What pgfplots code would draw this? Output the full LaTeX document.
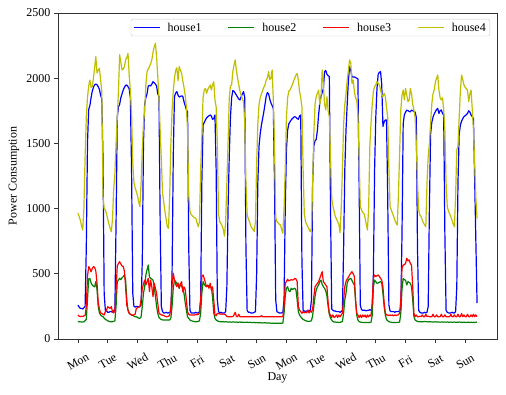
\documentclass[border=0pt]{standalone}
\usepackage{fontspec}
\setmainfont{Liberation Serif}
\usepackage{pgfplots}
\usepackage{pgfplotstable}
\pgfplotsset{compat=1.18}
\definecolor{mplb}{rgb}{0,0,1}
\definecolor{mplg}{rgb}{0,0.5,0}
\definecolor{mplr}{rgb}{1,0,0}
\definecolor{mply}{rgb}{0.75,0.75,0}

% house1, hourly values, one line per day
\pgfplotstableread[row sep=\\,header=false]{
260\\245\\235\\235\\230\\240\\250\\700\\1500\\1760\\1790\\1850\\1900\\1930\\1950\\1955\\1950\\1935\\1915\\1870\\1840\\1400\\350\\220\\
215\\205\\205\\210\\210\\205\\215\\230\\900\\1700\\1780\\1800\\1850\\1880\\1910\\1930\\1945\\1948\\1935\\1920\\1850\\1300\\350\\250\\
245\\250\\250\\245\\250\\260\\600\\1500\\1800\\1850\\1880\\1940\\1945\\1940\\1955\\1973\\1965\\1955\\1940\\1880\\1860\\900\\250\\210\\
200\\200\\205\\200\\200\\205\\210\\500\\1400\\1860\\1885\\1897\\1870\\1855\\1860\\1865\\1860\\1820\\1790\\1760\\1740\\700\\220\\200\\
200\\200\\200\\205\\200\\200\\210\\300\\1200\\1640\\1660\\1680\\1695\\1705\\1712\\1718\\1710\\1685\\1690\\1718\\1300\\300\\210\\200\\
205\\200\\200\\200\\210\\400\\1000\\1400\\1700\\1850\\1905\\1900\\1885\\1870\\1855\\1840\\1833\\1858\\1880\\1897\\1850\\700\\220\\205\\
205\\200\\200\\200\\205\\210\\500\\1200\\1480\\1575\\1640\\1690\\1740\\1800\\1860\\1890\\1880\\1840\\1810\\1790\\1770\\1200\\300\\210\\
205\\200\\200\\200\\205\\300\\1000\\1450\\1600\\1650\\1665\\1680\\1690\\1700\\1705\\1700\\1690\\1685\\1710\\1718\\600\\220\\215\\210\\
215\\215\\220\\215\\300\\1200\\1480\\1520\\1530\\1600\\1720\\1810\\1860\\1890\\1920\\2050\\2060\\2030\\2020\\2012\\1000\\230\\220\\215\\
215\\210\\210\\210\\205\\210\\220\\700\\1300\\1600\\1800\\1980\\2089\\2060\\2012\\2008\\2010\\2005\\2000\\1995\\1200\\260\\225\\220\\
220\\220\\215\\220\\220\\225\\220\\230\\500\\1300\\1700\\1920\\2030\\2045\\2050\\1950\\1630\\1665\\1680\\1680\\1100\\260\\215\\210\\
210\\210\\205\\210\\210\\210\\215\\230\\800\\1650\\1720\\1740\\1755\\1752\\1745\\1742\\1755\\1752\\1745\\1740\\1700\\700\\220\\205\\
200\\200\\200\\205\\200\\205\\250\\1000\\1570\\1660\\1700\\1725\\1743\\1760\\1768\\1730\\1750\\1756\\1730\\1720\\800\\220\\205\\200\\
200\\200\\205\\200\\200\\210\\400\\1200\\1570\\1640\\1670\\1690\\1705\\1712\\1720\\1730\\1750\\1740\\1718\\1705\\1690\\1220\\750\\276\\
}\houseA

% house2
\pgfplotstableread[row sep=\\,header=false]{
133\\133\\132\\130\\130\\132\\140\\150\\300\\460\\465\\430\\414\\405\\400\\440\\380\\250\\200\\184\\175\\171\\160\\150\\
146\\140\\135\\133\\133\\133\\135\\140\\250\\440\\452\\465\\455\\470\\478\\491\\450\\300\\222\\197\\190\\184\\180\\175\\
171\\171\\165\\160\\159\\170\\250\\350\\401\\491\\530\\567\\478\\465\\460\\452\\400\\330\\250\\197\\165\\155\\150\\146\\
146\\145\\145\\146\\145\\146\\160\\250\\389\\452\\440\\427\\410\\389\\420\\410\\380\\350\\280\\222\\170\\159\\146\\140\\
138\\135\\133\\133\\133\\135\\140\\200\\350\\440\\420\\405\\401\\414\\405\\401\\395\\320\\200\\159\\145\\140\\135\\133\\
133\\132\\133\\131\\132\\131\\130\\131\\130\\129\\131\\130\\129\\130\\128\\129\\130\\128\\129\\128\\127\\128\\129\\127\\
128\\127\\126\\127\\126\\125\\126\\125\\124\\125\\124\\123\\124\\125\\123\\122\\123\\122\\121\\122\\121\\120\\121\\120\\
121\\120\\120\\121\\122\\200\\330\\389\\401\\370\\363\\389\\380\\385\\390\\375\\300\\210\\184\\170\\159\\150\\146\\140\\
138\\135\\135\\136\\140\\180\\250\\325\\376\\400\\414\\440\\452\\420\\400\\389\\370\\330\\250\\190\\159\\146\\135\\130\\
130\\128\\128\\127\\128\\130\\135\\200\\300\\350\\427\\452\\460\\465\\450\\430\\414\\300\\184\\146\\133\\130\\128\\127\\
127\\126\\126\\127\\126\\127\\128\\180\\400\\452\\440\\427\\430\\435\\440\\430\\350\\250\\184\\150\\140\\133\\130\\128\\
127\\127\\126\\127\\127\\128\\130\\200\\380\\465\\455\\450\\414\\440\\435\\427\\400\\300\\171\\146\\140\\135\\133\\133\\
133\\132\\133\\134\\133\\132\\131\\133\\132\\131\\130\\131\\132\\130\\131\\130\\129\\130\\131\\129\\130\\129\\130\\129\\
129\\130\\128\\129\\130\\128\\129\\128\\130\\129\\128\\127\\129\\128\\127\\128\\129\\127\\128\\127\\128\\127\\128\\130\\
}\houseB

% house3
\pgfplotstableread[row sep=\\,header=false]{
184\\175\\171\\175\\171\\178\\180\\250\\480\\555\\540\\516\\540\\555\\550\\520\\430\\280\\230\\200\\195\\190\\184\\210\\
222\\248\\240\\235\\248\\210\\200\\215\\376\\560\\580\\593\\575\\560\\555\\520\\400\\260\\222\\197\\190\\184\\184\\185\\
190\\235\\240\\245\\248\\299\\389\\420\\452\\414\\440\\465\\363\\452\\400\\325\\427\\390\\350\\274\\200\\190\\184\\184\\
180\\175\\171\\171\\175\\180\\250\\420\\504\\452\\420\\401\\430\\389\\420\\440\\363\\400\\380\\299\\207\\190\\184\\184\\
184\\185\\184\\190\\185\\190\\200\\300\\480\\491\\465\\430\\401\\410\\389\\427\\376\\400\\300\\184\\178\\197\\195\\192\\
192\\190\\192\\190\\185\\172\\171\\171\\171\\171\\172\\185\\205\\172\\171\\190\\171\\171\\171\\171\\171\\171\\171\\171\\
171\\171\\171\\171\\171\\171\\171\\171\\171\\171\\180\\171\\171\\171\\171\\171\\171\\171\\171\\171\\171\\171\\171\\171\\
171\\171\\171\\171\\172\\250\\427\\440\\458\\445\\450\\455\\452\\455\\465\\460\\440\\250\\222\\210\\197\\210\\200\\207\\
200\\222\\200\\215\\205\\230\\325\\401\\414\\427\\440\\465\\491\\516\\440\\427\\414\\400\\280\\197\\184\\165\\184\\165\\
171\\184\\165\\184\\170\\184\\200\\300\\401\\440\\460\\473\\491\\504\\516\\500\\480\\300\\197\\184\\165\\184\\165\\184\\
170\\184\\165\\184\\170\\184\\175\\280\\465\\491\\480\\485\\491\\480\\465\\452\\400\\280\\200\\184\\184\\180\\184\\180\\
184\\178\\184\\180\\184\\185\\200\\300\\542\\567\\570\\580\\619\\600\\606\\580\\567\\400\\197\\171\\184\\171\\171\\175\\
171\\185\\171\\171\\190\\171\\175\\171\\171\\171\\190\\171\\171\\185\\171\\171\\171\\190\\171\\171\\185\\171\\171\\171\\
171\\190\\171\\171\\185\\171\\171\\190\\171\\171\\195\\171\\185\\171\\171\\190\\171\\171\\185\\171\\190\\171\\185\\171\\
}\houseC

% house4
\pgfplotstableread[row sep=\\,header=false]{
965\\940\\910\\870\\836\\1000\\1400\\1700\\1850\\1940\\1986\\1930\\1935\\2000\\2080\\2165\\2040\\2060\\2076\\1990\\1900\\1100\\1000\\990\\
960\\920\\880\\850\\823\\920\\1150\\1270\\1500\\1700\\1900\\2180\\2120\\2063\\2070\\2089\\2140\\2160\\2190\\2025\\1900\\1730\\1350\\1200\\
1160\\1130\\1100\\1050\\1015\\1200\\1450\\1650\\1756\\1950\\2050\\2070\\2089\\2110\\2140\\2200\\2240\\2268\\2165\\2012\\1850\\1600\\1373\\1120\\
1050\\980\\920\\860\\849\\1100\\1500\\1750\\1900\\2000\\2060\\2080\\1980\\2090\\2060\\2040\\1980\\1930\\1870\\1780\\1600\\1100\\980\\955\\
945\\935\\930\\925\\890\\861\\900\\1300\\1550\\1850\\1910\\1922\\1884\\1915\\1930\\1948\\1910\\1950\\1973\\1833\\1780\\1500\\960\\900\\
885\\870\\840\\790\\900\\1200\\1500\\1850\\1940\\1950\\2050\\2100\\2140\\2060\\2000\\1950\\1900\\1870\\1840\\1820\\1650\\1200\\960\\920\\
900\\870\\850\\840\\825\\900\\1350\\1650\\1800\\1850\\1880\\1905\\1930\\1948\\1986\\2000\\2050\\1990\\2000\\2063\\1830\\1500\\930\\900\\
890\\880\\874\\840\\810\\1000\\1300\\1700\\1850\\1900\\1909\\1930\\1950\\1980\\2000\\2025\\2035\\1986\\1900\\1850\\1780\\1300\\960\\900\\
880\\860\\840\\823\\850\\1200\\1575\\1800\\1860\\1884\\1909\\1800\\1850\\2063\\1950\\1800\\1756\\1858\\1750\\1705\\1400\\1080\\1020\\980\\
940\\920\\900\\880\\815\\1000\\1300\\1650\\1800\\1880\\1986\\2060\\2140\\2120\\1960\\1986\\1900\\1850\\1830\\1720\\1400\\1015\\990\\970\\
964\\930\\880\\836\\1000\\1474\\1654\\1800\\1900\\1935\\1950\\1973\\1960\\1950\\1909\\1870\\1858\\1884\\1860\\1780\\1700\\1300\\1015\\990\\
964\\940\\910\\890\\874\\1100\\1425\\1756\\1870\\1909\\1833\\1922\\1870\\1820\\1830\\1922\\1880\\1800\\1756\\1700\\1500\\1200\\990\\950\\
940\\913\\890\\875\\861\\1200\\1400\\1500\\1654\\1800\\1880\\1909\\1970\\2000\\2025\\1909\\1850\\1833\\1850\\1756\\1600\\1200\\1015\\980\\
960\\938\\910\\880\\861\\1100\\1450\\1480\\1700\\1900\\2025\\1990\\1948\\1930\\1920\\1909\\1820\\1880\\1909\\1756\\1600\\1350\\1080\\925\\
}\houseD

\begin{document}
\begin{tikzpicture}
\begin{axis}[
  scale only axis, width=439pt, height=326pt,
  xmin=-16.75, xmax=351.75, ymin=0, ymax=2500,
  xtick={0,25,...,325},
  xticklabels={Mon,Tue,Wed,Thu,Fri,Sat,Sun,Mon,Tue,Wed,Thu,Fri,Sat,Sun},
  ytick={0,500,...,2500},
  scaled y ticks=false,
  /pgf/number format/1000 sep={},
  /pgf/number format/assume math mode=true,
  tick align=outside, major tick length=4pt,
  xtick pos=left, ytick pos=left,
  axis line style={black!80, line width=0.8pt},
  every tick/.style={black!80, line width=0.8pt},
  tick label style={font=\fontsize{12}{14}\selectfont},
  xticklabel style={yshift=-18.5pt, anchor=center, rotate=30},
  xlabel={Day}, ylabel={Power Consumption},
  every axis x label/.style={at={(axis description cs:0.5,-0.1196)}, anchor=center, font=\fontsize{12}{14}\selectfont},
  every axis y label/.style={at={(axis description cs:-0.1002,0.5)}, rotate=90, anchor=center, font=\fontsize{12}{14}\selectfont},
  legend columns=4,
  legend style={at={(axis description cs:0.9841,0.9816)}, anchor=north east,
    draw=black!20, rounded corners=2pt, fill=white,
    font=\fontsize{12}{14}\selectfont,
    inner xsep=2pt, inner ysep=1.5pt,
    /tikz/every odd column/.append style={column sep=5.5pt},
    /tikz/every even column/.append style={column sep=24pt}},
  legend image code/.code={\draw[line width=1.2pt,#1] plot coordinates {(0pt,0pt) (13pt,0pt) (26pt,0pt)};},
  every axis plot/.append style={line width=1.2pt, line join=round},
]
\addplot[color=mplb] table[x expr=\coordindex, y index=0] {\houseA};
\addlegendentry{house1}
\addplot[color=mplg] table[x expr=\coordindex, y index=0] {\houseB};
\addlegendentry{house2}
\addplot[color=mplr] table[x expr=\coordindex, y index=0] {\houseC};
\addlegendentry{house3}
\addplot[color=mply] table[x expr=\coordindex, y index=0] {\houseD};
\addlegendentry{house4}
\coordinate (sw) at (rel axis cs:0,0);
\end{axis}
\pgfresetboundingbox
\path (sw) ++(-58pt,-56pt) rectangle ++(506pt,395pt);
\end{tikzpicture}
\end{document}
